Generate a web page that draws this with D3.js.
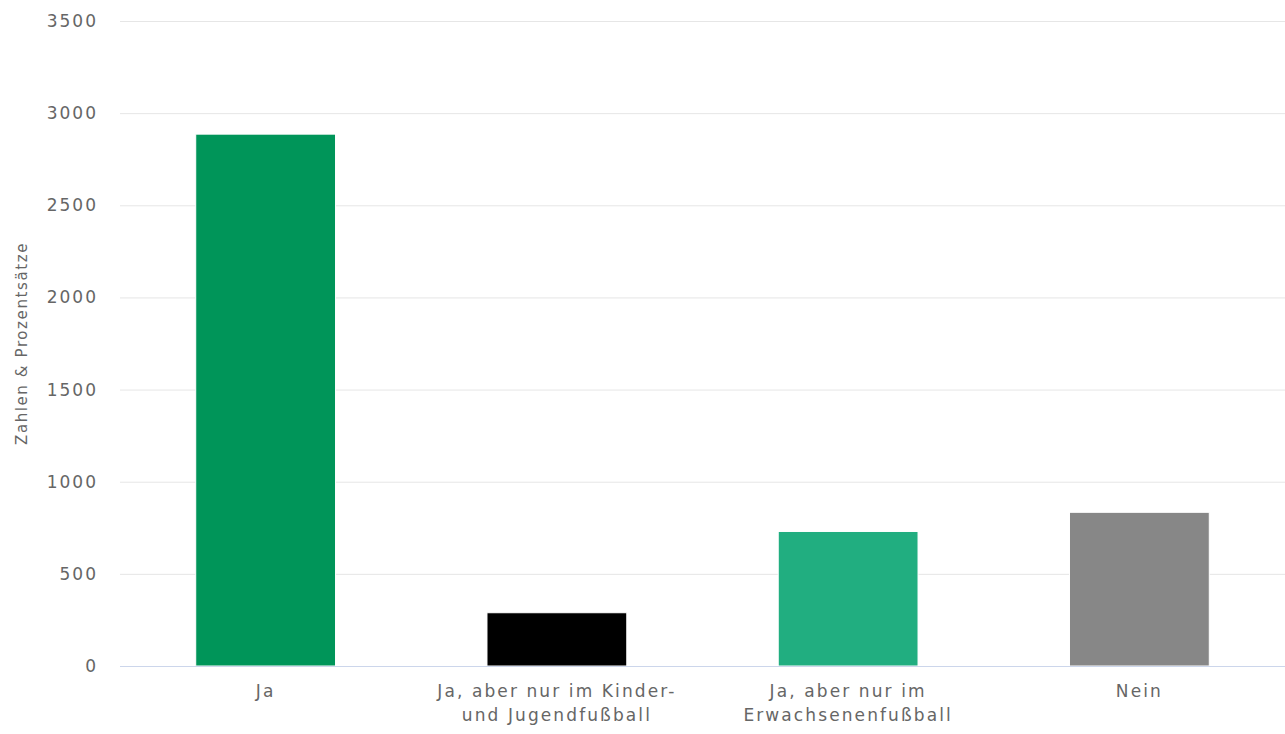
<!DOCTYPE html>
<html>
<head>
<meta charset="utf-8">
<script src="https://cdn.jsdelivr.net/npm/d3@7"></script>
<style>
  body { margin: 0; background: #fff; }
  #chart text { font-family: "DejaVu Sans", Verdana, sans-serif; fill: #666666; }
</style>
</head>
<body>
<div id="chart"></div>
<script>
var categories = ["Ja", "Ja, aber nur im Kinder- und Jugendfußball", "Ja, aber nur im Erwachsenenfußball", "Nein"];
var labelLines = [["Ja"], ["Ja, aber nur im Kinder-", "und Jugendfußball"], ["Ja, aber nur im", "Erwachsenenfußball"], ["Nein"]];
var values = [2886, 289, 730, 834];
var colors = ["#009559", "#000000", "#21ae80", "#878787"];
var yTicks = [0, 500, 1000, 1500, 2000, 2500, 3000, 3500];
var yTitle = "Zahlen & Prozentsätze";

var W = 1285, H = 734;
var margin = {top: 21, right: 0, bottom: 68, left: 120};
var width = W - margin.left - margin.right,
    height = H - margin.top - margin.bottom;

var svg = d3.select("#chart").append("svg")
    .attr("width", W)
    .attr("height", H);

var g = svg.append("g")
    .attr("transform", "translate(" + margin.left + "," + margin.top + ")");

var x = d3.scaleBand()
    .domain(categories)
    .range([0, width])
    .paddingInner(0)
    .paddingOuter(0);

var y = d3.scaleLinear()
    .domain([0, 3500])
    .range([height, 0]);

// grid lines
g.append("g")
    .selectAll("line")
    .data(yTicks.filter(function (d) { return d > 0; }))
    .enter().append("line")
    .attr("x1", 0).attr("x2", width)
    .attr("y1", function (d) { return y(d) + 0.5; })
    .attr("y2", function (d) { return y(d) + 0.5; })
    .attr("stroke", "#e6e6e6");

// y axis labels
var yAxis = g.append("g")
    .call(d3.axisLeft(y).tickValues(yTicks).tickSize(0).tickPadding(22).tickFormat(d3.format("d")));
yAxis.select(".domain").remove();
yAxis.selectAll("text")
    .style("font-size", "17px")
    .style("letter-spacing", "2px")
    .attr("fill", "#666666");

// bars
var barW = x.bandwidth() * 0.48;
g.selectAll(".bar")
    .data(values)
    .enter().append("rect")
    .attr("class", "bar")
    .attr("x", function (d, i) { return x(categories[i]) + (x.bandwidth() - barW) / 2; })
    .attr("y", function (d) { return y(d); })
    .attr("width", barW)
    .attr("height", function (d) { return height - y(d); })
    .attr("fill", function (d, i) { return colors[i]; })
    .attr("stroke", "#ffffff")
    .attr("stroke-width", 1);

// baseline
g.append("line")
    .attr("x1", 0).attr("x2", width)
    .attr("y1", height + 0.5).attr("y2", height + 0.5)
    .attr("stroke", "#ccd6eb");

// x labels
var xl = g.append("g").selectAll("text")
    .data(categories)
    .enter().append("text")
    .attr("x", function (d) { return x(d) + x.bandwidth() / 2; })
    .attr("y", height + 31)
    .attr("text-anchor", "middle")
    .style("font-size", "17px")
    .style("letter-spacing", "2.1px");
xl.each(function (d, i) {
    var t = d3.select(this);
    labelLines[i].forEach(function (line, k) {
        t.append("tspan")
            .attr("x", x(d) + x.bandwidth() / 2)
            .attr("dy", k === 0 ? 0 : 24)
            .text(line);
    });
});

// y title
svg.append("text")
    .attr("transform", "translate(27," + (margin.top + height / 2) + ") rotate(-90)")
    .attr("text-anchor", "middle")
    .style("font-size", "15px")
    .style("letter-spacing", "1.6px")
    .text(yTitle);
</script>
</body>
</html>
